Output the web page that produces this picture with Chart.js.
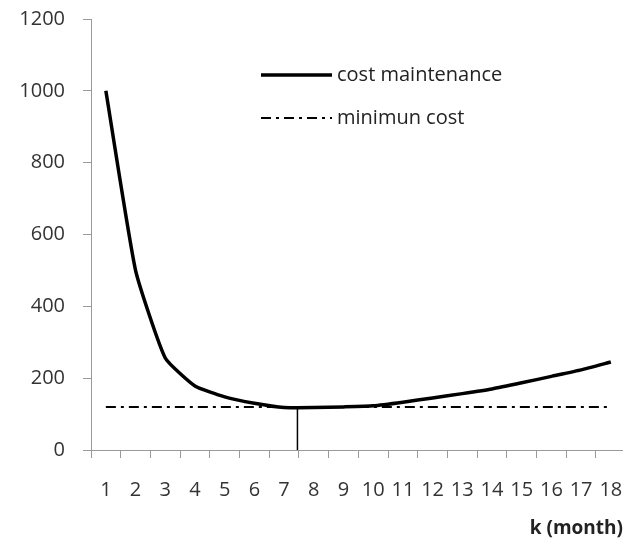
<!DOCTYPE html>
<html>
<head>
<meta charset="utf-8">
<script src="https://cdn.jsdelivr.net/npm/chart.js@4"></script>
<style>
  body { margin: 0; background: #fff; }
</style>
</head>
<body>
<canvas id="chart" width="623" height="540"></canvas>
<script>
const months = [1, 2, 3, 4, 5, 6, 7, 8, 9, 10, 11, 12, 13, 14, 15, 16, 17, 18];
const costMaintenance = [1000, 500, 256, 178, 148, 130, 118, 118, 120, 123, 133, 145, 157, 170, 187, 205, 223, 245];
const minimumCost = [120, 120, 120, 120, 120, 120, 120, 120, 120, 120, 120, 120, 120, 120, 120, 120, 120, 120];
const optimumX = [7.45, 7.45];
const optimumY = [0, 117];
const yTicks = [0, 200, 400, 600, 800, 1000, 1200];

const font = { family: '"Open Sans", sans-serif', size: 20 };
const axisGray = '#9a9a9a';

// legend drawn inside the plot, like the original
const insideLegend = {
    id: 'insideLegend',
    afterDraw(chart) {
        const ctx = chart.ctx;
        ctx.save();
        ctx.font = '20px "Open Sans", sans-serif';
        ctx.fillStyle = '#222';
        ctx.textBaseline = 'middle';
        ctx.strokeStyle = '#000';

        ctx.lineWidth = 3.5;
        ctx.beginPath();
        ctx.moveTo(261, 75);
        ctx.lineTo(332, 75);
        ctx.stroke();
        ctx.fillText('cost maintenance', 337, 75);

        ctx.lineWidth = 2;
        ctx.setLineDash([10, 5, 3, 5]);
        ctx.beginPath();
        ctx.moveTo(261, 118);
        ctx.lineTo(332, 118);
        ctx.stroke();
        ctx.setLineDash([]);
        ctx.fillText('minimun cost', 337, 118);
        ctx.restore();
    }
};

new Chart(document.getElementById('chart'), {
    type: 'line',
    data: {
        datasets: [
            {
                label: 'cost maintenance',
                data: months.map((m, i) => ({ x: m, y: costMaintenance[i] })),
                borderColor: '#000',
                borderWidth: 3.5,
                pointRadius: 0,
                tension: 0.15
            },
            {
                label: 'minimun cost',
                data: months.map((m, i) => ({ x: m, y: minimumCost[i] })),
                borderColor: '#000',
                borderWidth: 2,
                borderDash: [10, 5, 3, 5],
                pointRadius: 0
            },
            {
                label: 'optimum',
                data: optimumX.map((x, i) => ({ x: x, y: optimumY[i] })),
                borderColor: '#000',
                borderWidth: 1.5,
                pointRadius: 0
            }
        ]
    },
    options: {
        responsive: false,
        animation: false,
        devicePixelRatio: 1,
        layout: { padding: { top: 19, right: 0, left: 0, bottom: 0 } },
        plugins: {
            legend: { display: false },
            tooltip: { enabled: false }
        },
        scales: {
            x: {
                type: 'linear',
                min: 0.5,
                max: 18.41,
                afterBuildTicks: s => {
                    s.ticks = months.flatMap(m => [m - 0.5, m]).map(v => ({ value: v }));
                },
                afterFit: s => {
                    s.height = 90;
                    s.paddingLeft = 0;
                    s.paddingRight = 0;
                },
                ticks: {
                    autoSkip: false,
                    maxRotation: 0,
                    padding: 20,
                    font: font,
                    color: '#333',
                    callback: v => Number.isInteger(v) ? String(v) : ''
                },
                grid: {
                    drawOnChartArea: false,
                    tickLength: 8,
                    tickColor: c => Number.isInteger(c.tick.value) ? 'rgba(0,0,0,0)' : axisGray
                },
                border: { color: axisGray },
                title: {
                    display: true,
                    text: 'k (month)',
                    align: 'end',
                    color: '#222',
                    font: { family: '"Open Sans", sans-serif', size: 19, weight: 'bold' },
                    padding: { top: 2, bottom: 0 }
                }
            },
            y: {
                min: 0,
                max: 1200,
                afterBuildTicks: s => {
                    s.ticks = yTicks.map(v => ({ value: v }));
                },
                afterFit: s => {
                    s.width = 91;
                    s.paddingTop = 0;
                    s.paddingBottom = 0;
                },
                ticks: { padding: 18, font: font, color: '#333', callback: v => String(v) },
                grid: { drawOnChartArea: false, tickLength: 8, tickColor: axisGray },
                border: { color: axisGray }
            }
        }
    },
    plugins: [insideLegend]
});
</script>
</body>
</html>
